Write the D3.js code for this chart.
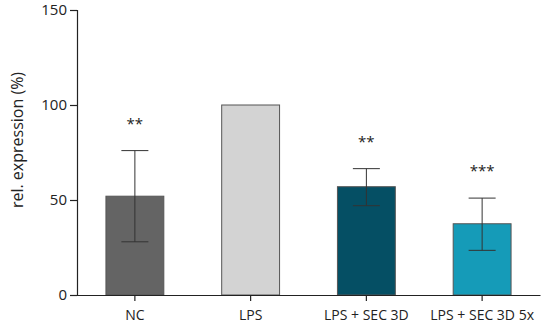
<!DOCTYPE html>
<html><head><meta charset="utf-8">
<script src="https://cdn.jsdelivr.net/npm/d3@7"></script>
<style>body{margin:0;background:#fff}svg{display:block}text{font-family:"Open Sans",sans-serif}</style>
</head><body><svg id="c" width="550" height="328"></svg>
<script>
const categories = ["NC", "LPS", "LPS + SEC 3D", "LPS + SEC 3D 5x"];
const values = [52, 100, 57, 37.5];
const errLow = [28, 100, 47, 23.5];
const errHigh = [76, 100, 66.5, 51];
const stars = ["**", "", "**", "***"];
const colors = ["#646464", "#d3d3d3", "#054f64", "#159bb8"];
const yTicks = [0, 50, 100, 150];

const svg = d3.select("#c");
const x = d3.scaleBand().domain(categories).range([77, 540]).paddingInner(0.5).paddingOuter(0.25);
const y = d3.scaleLinear().domain([0, 150]).range([295, 10]);

const gy = svg.append("g").attr("transform", "translate(77,0)")
  .call(d3.axisLeft(y).tickValues(yTicks).tickSize(7).tickPadding(3));
gy.selectAll("text").style("font-size", "15px").attr("fill", "#222");
gy.selectAll("line,path").attr("stroke", "#222").attr("stroke-width", 1.2);

const data = categories.map((c, i) => ({c, v: values[i], lo: errLow[i], hi: errHigh[i], s: stars[i], col: colors[i]}));

svg.selectAll("rect.bar").data(data).join("rect").attr("class", "bar")
  .attr("x", d => x(d.c)).attr("width", x.bandwidth())
  .attr("y", d => y(d.v)).attr("height", d => y(0) - y(d.v))
  .attr("fill", d => d.col).attr("stroke", "#555").attr("stroke-width", 1);

const eb = svg.selectAll("g.err").data(data.filter(d => d.hi !== d.lo)).join("g").attr("class", "err")
  .attr("stroke", "#333").attr("stroke-width", 1);
const cx = d => x(d.c) + x.bandwidth() / 2;
eb.append("line").attr("x1", cx).attr("x2", cx).attr("y1", d => y(d.lo)).attr("y2", d => y(d.hi));
eb.append("line").attr("x1", d => cx(d) - 13.5).attr("x2", d => cx(d) + 13.5).attr("y1", d => y(d.hi)).attr("y2", d => y(d.hi));
eb.append("line").attr("x1", d => cx(d) - 13.5).attr("x2", d => cx(d) + 13.5).attr("y1", d => y(d.lo)).attr("y2", d => y(d.lo));

svg.selectAll("text.star").data(data.filter(d => d.s)).join("text").attr("class", "star")
  .attr("x", cx).attr("y", d => y(d.hi) - 22).attr("text-anchor", "middle")
  .style("font-size", "15px").attr("fill", "#222").text(d => d.s);

const gx = svg.append("g").attr("transform", "translate(0,295)")
  .call(d3.axisBottom(x).tickSize(6).tickPadding(9).tickSizeOuter(0));
gx.selectAll("text").style("font-size", "14px").attr("fill", "#222");
gx.selectAll("line,path").attr("stroke", "#222").attr("stroke-width", 1.2);

svg.append("text").attr("transform", "translate(23,140) rotate(-90)").attr("text-anchor", "middle")
  .style("font-size", "16px").attr("fill", "#222").text("rel. expression (%)");
</script></body></html>
